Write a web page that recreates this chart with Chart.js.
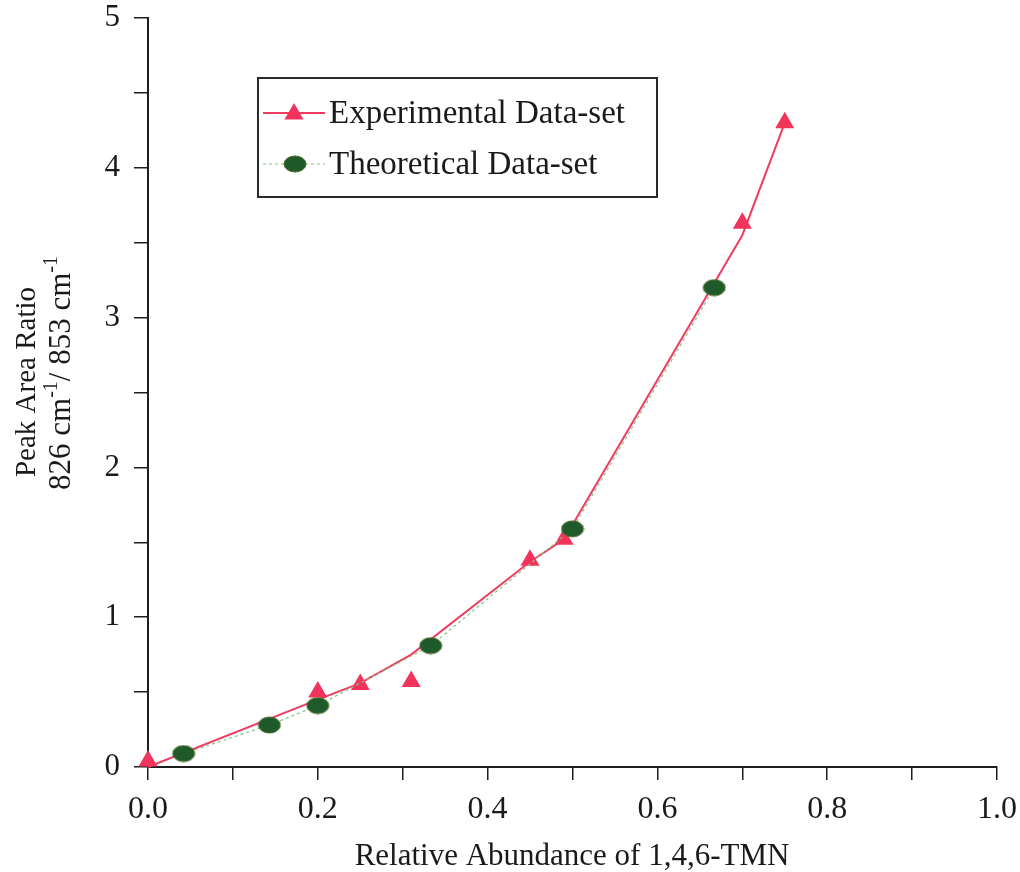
<!DOCTYPE html>
<html>
<head>
<meta charset="utf-8">
<script src="https://cdn.jsdelivr.net/npm/chart.js@4.4.1/dist/chart.umd.min.js"></script>
<style>
  html, body { margin: 0; padding: 0; background: #ffffff; }
  #wrap { width: 1020px; height: 872px; position: relative; }
</style>
</head>
<body>
<div id="wrap"><canvas id="c" width="1020" height="872"></canvas></div>
<script>
// Measured peak area ratios (triangles)
const expX = [0.0, 0.2, 0.25, 0.31, 0.45, 0.49, 0.70, 0.75];
const expY = [0.04, 0.50, 0.55, 0.57, 1.38, 1.52, 3.63, 4.30];
// Fitted curve through the experimental abundances
const fitX = [0.0, 0.2, 0.25, 0.31, 0.45, 0.49, 0.70, 0.75];
const fitY = [0.0, 0.45, 0.56, 0.75, 1.37, 1.52, 3.55, 4.30];
// Theoretical ratios (ellipses, dotted line)
const theoX = [0.042, 0.143, 0.2, 0.333, 0.5, 0.667];
const theoY = [0.09, 0.28, 0.41, 0.81, 1.59, 3.20];
// Axis tick labels
const xTickLabels = ['0.0', '0.2', '0.4', '0.6', '0.8', '1.0'];
const yTickLabels = ['0', '1', '2', '3', '4', '5'];

const legendNames = ['Experimental Data-set', 'Theoretical Data-set'];
const xTitle = 'Relative Abundance of 1,4,6-TMN';

const SERIF = '"Liberation Serif", "Times New Roman", serif';
const RED = '#f2345c';
const RED_LINE = '#ef3d62';
const GREEN = '#1f5a2b';
const GREEN_LINE = '#80c482';
const AXIS = '#1e1e1e';
const TRI_R = 11;

// Ellipse-shaped point marker
function ellipseMarker(w, h) {
  const cv = document.createElement('canvas');
  cv.width = w + 2; cv.height = h + 2;
  const g = cv.getContext('2d');
  g.beginPath();
  g.ellipse(cv.width / 2, cv.height / 2, w / 2, h / 2, 0, 0, Math.PI * 2);
  g.fillStyle = GREEN;
  g.fill();
  g.lineWidth = 1;
  g.strokeStyle = '#4d6b2a';
  g.stroke();
  return cv;
}
const ellipse = ellipseMarker(22, 16);

const pts = (xs, ys) => xs.map((x, i) => ({ x: x, y: ys[i] }));

// Boxed legend inside the plot, axis titles with superscripts
const decorations = {
  id: 'decorations',
  afterDraw(chart) {
    const ctx = chart.ctx;
    ctx.save();
    // legend box
    const bx = 258, by = 78, bw = 399, bh = 119;
    ctx.fillStyle = '#ffffff';
    ctx.fillRect(bx, by, bw, bh);
    ctx.lineWidth = 2;
    ctx.strokeStyle = '#2a2a2a';
    ctx.strokeRect(bx, by, bw, bh);

    // row 1: red line with triangle
    const ry = 113;
    ctx.beginPath();
    ctx.moveTo(263, ry); ctx.lineTo(325, ry);
    ctx.lineWidth = 2; ctx.strokeStyle = RED_LINE; ctx.stroke();
    ctx.fillStyle = RED;
    ctx.beginPath();
    const cx = 294, cy = ry + 1;
    ctx.moveTo(cx, cy - TRI_R);
    ctx.lineTo(cx + TRI_R * Math.sin(2 * Math.PI / 3), cy - TRI_R * Math.cos(2 * Math.PI / 3));
    ctx.lineTo(cx + TRI_R * Math.sin(4 * Math.PI / 3), cy - TRI_R * Math.cos(4 * Math.PI / 3));
    ctx.closePath();
    ctx.fill();

    // row 2: dotted green line with ellipse
    const gy = 164;
    ctx.beginPath();
    ctx.setLineDash([3, 3]);
    ctx.moveTo(263, gy); ctx.lineTo(325, gy);
    ctx.lineWidth = 1.2; ctx.strokeStyle = GREEN_LINE; ctx.stroke();
    ctx.setLineDash([]);
    ctx.drawImage(ellipse, 295 - ellipse.width / 2, gy - ellipse.height / 2);

    ctx.fillStyle = '#1a1a1a';
    ctx.font = '33px ' + SERIF;
    ctx.textBaseline = 'alphabetic';
    ctx.textAlign = 'left';
    ctx.fillText(legendNames[0], 329, 123);
    ctx.fillText(legendNames[1], 329, 174);

    // x axis title
    ctx.textAlign = 'center';
    ctx.font = '31px ' + SERIF;
    ctx.fillText(xTitle, 572, 865);

    // y axis title, two rotated lines
    const drawRuns = (runs, baseX, centerY) => {
      ctx.save();
      ctx.translate(baseX, centerY);
      ctx.rotate(-Math.PI / 2);
      let total = 0;
      runs.forEach(rn => { ctx.font = rn.size + 'px ' + SERIF; total += ctx.measureText(rn.t).width; });
      let x = -total / 2;
      ctx.textAlign = 'left';
      runs.forEach(rn => {
        ctx.font = rn.size + 'px ' + SERIF;
        ctx.fillText(rn.t, x, -rn.rise);
        x += ctx.measureText(rn.t).width;
      });
      ctx.restore();
    };
    drawRuns([{ t: 'Peak Area Ratio', size: 29, rise: 0 }], 35, 382);
    drawRuns([
      { t: '826 cm', size: 31, rise: 0 },
      { t: '-1', size: 20, rise: 13 },
      { t: '/ 853 cm', size: 31, rise: 0 },
      { t: '-1', size: 20, rise: 13 }
    ], 70, 373);
    ctx.restore();
  }
};

new Chart(document.getElementById('c'), {
  type: 'scatter',
  data: {
    datasets: [
      {
        label: 'Fit',
        data: pts(fitX, fitY),
        showLine: true,
        borderColor: RED_LINE,
        borderWidth: 2,
        pointRadius: 0,
        tension: 0,
        clip: false,
        order: 3
      },
      {
        label: legendNames[0],
        data: pts(expX, expY),
        showLine: false,
        pointStyle: 'triangle',
        pointRadius: TRI_R,
        pointBackgroundColor: RED,
        pointBorderWidth: 0,
        clip: false,
        order: 2
      },
      {
        label: legendNames[1],
        data: pts(theoX, theoY),
        showLine: true,
        borderColor: GREEN_LINE,
        borderWidth: 1.2,
        borderDash: [3, 3],
        pointStyle: ellipse,
        pointRadius: 10,
        clip: false,
        order: 1
      }
    ]
  },
  options: {
    responsive: false,
    animation: false,
    events: [],
    layout: { padding: { top: 18, right: 23, left: 0, bottom: 0 } },
    plugins: {
      legend: { display: false },
      tooltip: { enabled: false }
    },
    scales: {
      x: {
        type: 'linear',
        min: 0, max: 1,
        afterFit: (s) => { s.height = 105; s.paddingLeft = 0; s.paddingRight = 0; },
        border: { color: AXIS, width: 2 },
        grid: { drawOnChartArea: false, drawTicks: true, tickLength: 13, color: AXIS, lineWidth: 1.5 },
        ticks: {
          stepSize: 0.1,
          autoSkip: false,
          maxRotation: 0,
          padding: 10,
          color: '#1a1a1a',
          font: { family: SERIF, size: 32 },
          callback: (v, i) => (i % 2 === 0 ? xTickLabels[i / 2] : '')
        }
      },
      y: {
        type: 'linear',
        min: 0, max: 5,
        afterFit: (s) => { s.width = 148; s.paddingTop = 0; s.paddingBottom = 0; },
        border: { color: AXIS, width: 2 },
        grid: { drawOnChartArea: false, drawTicks: true, tickLength: 14, color: AXIS, lineWidth: 1.5 },
        ticks: {
          stepSize: 0.5,
          autoSkip: false,
          padding: 14,
          color: '#1a1a1a',
          font: { family: SERIF, size: 31 },
          callback: (v, i) => (i % 2 === 0 ? yTickLabels[i / 2] : '')
        }
      }
    }
  },
  plugins: [decorations]
});
</script>
</body>
</html>
